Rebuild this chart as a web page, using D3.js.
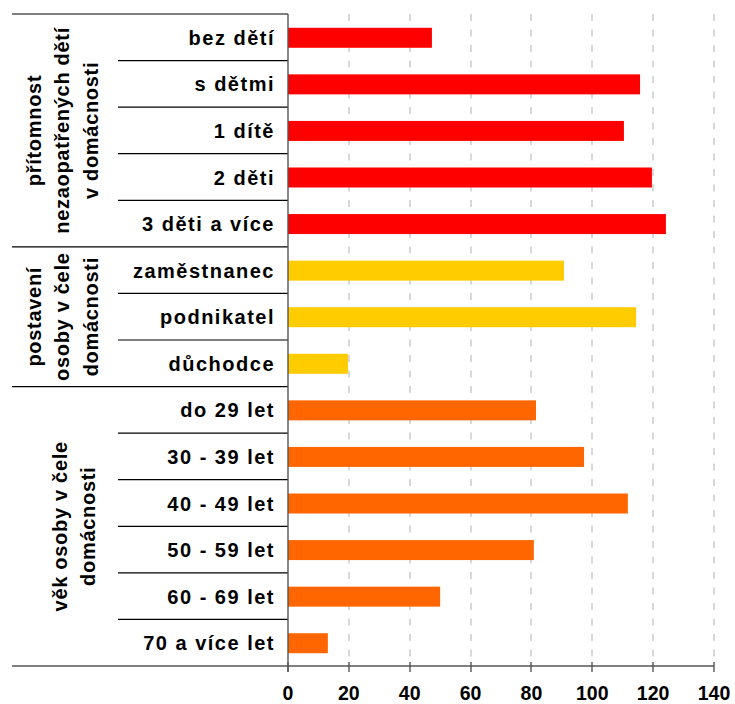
<!DOCTYPE html>
<html><head><meta charset="utf-8">
<script src="https://cdn.jsdelivr.net/npm/d3@7"></script>
<style>
html,body{margin:0;padding:0;background:#fff;}
svg{display:block;font-family:"Liberation Sans",Arial,sans-serif;font-weight:bold;}
</style></head>
<body>
<svg id="chart" width="735" height="704"></svg>
<script>
const categories = ["bez dětí","s dětmi","1 dítě","2 děti","3 děti a více",
  "zaměstnanec","podnikatel","důchodce",
  "do 29 let","30 - 39 let","40 - 49 let","50 - 59 let","60 - 69 let","70 a více let"];
const values = [47.3,115.7,110.4,119.6,124.2, 90.7,114.4,19.7, 81.5,97.3,111.7,80.8,50.0,13.1];
const groupLabels = [
  ["přítomnost","nezaopatřených dětí","v domácnosti"],
  ["postavení","osoby v čele","domácnosti"],
  ["věk osoby v čele","domácnosti"]
];
const groupSizes = [5,3,6];
const groupColors = ["#FF0000","#FFCC00","#FF6600"];
const xTicks = [0,20,40,60,80,100,120,140];

(function(){
const svg = d3.select("#chart");
const plotTop = 14, plotBottom = 666, x0 = 288, x1 = 714;
const x = d3.scaleLinear().domain([0,140]).range([x0,x1]);
const y = d3.scaleBand().domain(categories).range([plotTop,plotBottom]).paddingInner(0).paddingOuter(0);
const bh = 20;

const groupIdx = [];
groupSizes.forEach((n,g)=>{for(let i=0;i<n;i++)groupIdx.push(g);});

// gridlines
svg.append("g").selectAll("line").data(xTicks.slice(1)).join("line")
  .attr("x1",d=>Math.round(x(d))).attr("x2",d=>Math.round(x(d)))
  .attr("y1",plotTop).attr("y2",plotBottom)
  .attr("stroke","#cfcfcf").attr("stroke-width",1.6).attr("stroke-dasharray","7,8.5");

// bars
svg.append("g").selectAll("rect").data(categories).join("rect")
  .attr("x",x(0)).attr("y",d=>y(d)+y.bandwidth()/2-bh/2+0.5)
  .attr("width",(d,i)=>x(values[i])-x(0)).attr("height",bh)
  .attr("fill",(d,i)=>groupColors[groupIdx[i]]);

// separators
const sep = svg.append("g").attr("stroke","#000").attr("stroke-width",1.2);
sep.append("line").attr("x1",12).attr("x2",x0).attr("y1",plotTop).attr("y2",plotTop);
let start = 0;
const groupStarts = [];
groupSizes.forEach((n,g)=>{
  groupStarts.push(start);
  for(let i=1;i<n;i++){
    const yy = y(categories[start+i]);
    sep.append("line").attr("x1",118).attr("x2",x0).attr("y1",yy).attr("y2",yy);
  }
  start += n;
  if(start<categories.length){
    const yy = y(categories[start]);
    sep.append("line").attr("x1",12).attr("x2",x0).attr("y1",yy).attr("y2",yy);
  }
});

// x axis
const xAxis = svg.append("g");
xAxis.append("line").attr("x1",12).attr("x2",x1).attr("y1",plotBottom).attr("y2",plotBottom)
  .attr("stroke","#555").attr("stroke-width",1.4);
xAxis.selectAll("line.tick").data(xTicks).join("line").attr("class","tick")
  .attr("x1",d=>Math.round(x(d))).attr("x2",d=>Math.round(x(d)))
  .attr("y1",plotBottom-4).attr("y2",plotBottom+6).attr("stroke","#555").attr("stroke-width",1.4);
xAxis.selectAll("text").data(xTicks).join("text")
  .attr("x",d=>x(d)).attr("y",700).attr("text-anchor","middle")
  .attr("font-size",19.5).attr("fill","#000").text(d=>d);

// y axis line
svg.append("line").attr("x1",x0).attr("x2",x0).attr("y1",plotTop).attr("y2",plotBottom+6)
  .attr("stroke","#555").attr("stroke-width",1.4);

// category labels
svg.append("g").selectAll("text").data(categories).join("text")
  .attr("x",275).attr("y",d=>y(d)+y.bandwidth()/2+7.5)
  .attr("text-anchor","end").attr("font-size",20).attr("letter-spacing","1.5px")
  .attr("fill","#000").text(d=>d);

// group labels
const lineGap = 28.5;
groupLabels.forEach((lines,g)=>{
  const s = groupStarts[g], n = groupSizes[g];
  const cy = (y(categories[s]) + y(categories[s+n-1]) + y.bandwidth())/2;
  const cx = lines.length===3 ? 62 : 74;
  lines.forEach((t,k)=>{
    const lx = cx + (k-(lines.length-1)/2)*lineGap;
    svg.append("text")
      .attr("transform",`translate(${lx},${cy}) rotate(-90)`)
      .attr("text-anchor","middle").attr("dominant-baseline","central")
      .attr("font-size",20).attr("letter-spacing","0.7px").attr("fill","#000").text(t);
  });
});
})();
</script>
</body></html>
